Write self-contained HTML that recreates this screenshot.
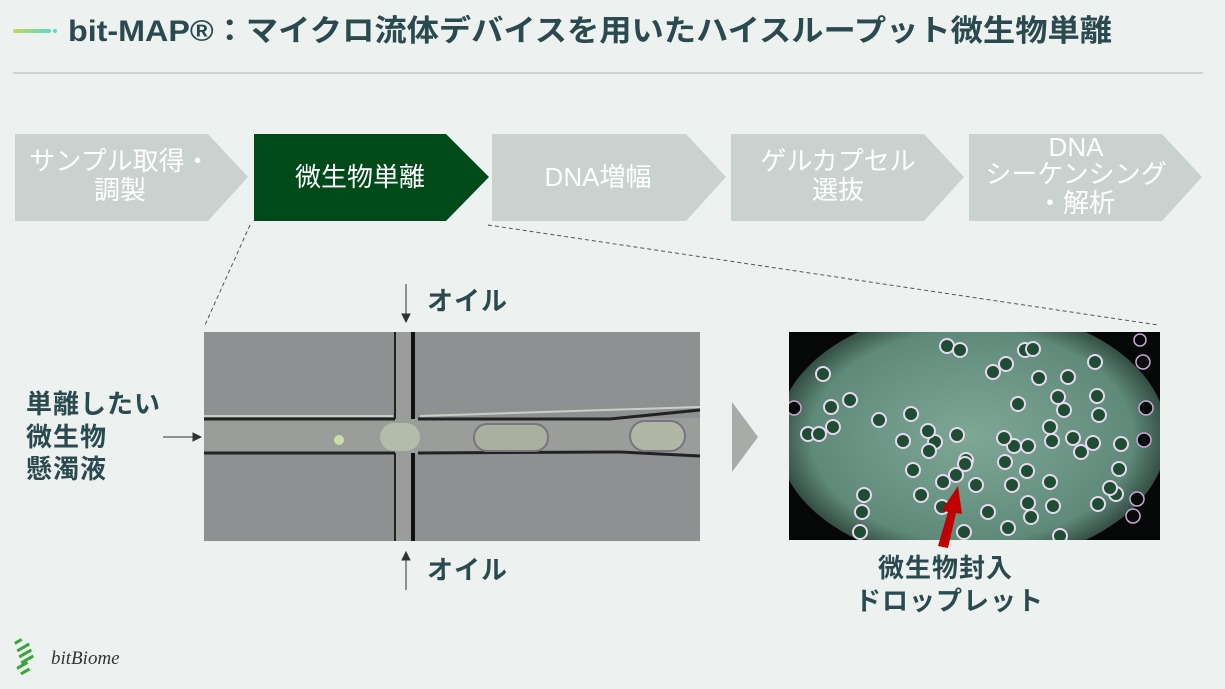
<!DOCTYPE html>
<html><head><meta charset="utf-8"><style>
body{margin:0;width:1225px;height:689px;background:#edf2f0;overflow:hidden;font-family:"Liberation Sans","Noto Sans CJK JP",sans-serif;}
</style></head><body>
<svg width="1225" height="689" viewBox="0 0 1225 689" xmlns="http://www.w3.org/2000/svg" style="position:absolute;left:0;top:0;font-family:'Liberation Sans','Noto Sans CJK JP',sans-serif">
<defs>
<linearGradient id="tg" x1="0" x2="1"><stop offset="0" stop-color="#c2dc50"/><stop offset="1" stop-color="#5ad8c8"/></linearGradient>
<radialGradient id="fl" cx="0.5" cy="0.5" r="0.55"><stop offset="0" stop-color="#7fa796"/><stop offset="0.75" stop-color="#5f8a7a"/><stop offset="1" stop-color="#1b2a24"/></radialGradient>
<clipPath id="fc"><rect x="789" y="332" width="371" height="208"/></clipPath>
</defs>
<rect x="13" y="29" width="38" height="4" rx="2" fill="url(#tg)"/>
<circle cx="55" cy="31" r="2" fill="#5ad8c8"/>
<text x="68" y="41" font-size="30" font-weight="bold" fill="#2a4a50" textLength="1044" lengthAdjust="spacingAndGlyphs">bit-MAP®：マイクロ流体デバイスを用いたハイスループット微生物単離</text>
<line x1="13" y1="73" x2="1203" y2="73" stroke="#a9b8b6" stroke-width="1"/>
<g font-size="26" fill="#fff" text-anchor="middle">
<polygon points="15,134 208,134 248,177 208,221 15,221" fill="#cad2cf"/>
<text x="120" y="170">サンプル取得・</text><text x="120" y="199">調製</text>
<polygon points="254,134 446,134 489,177 446,221 254,221" fill="#004a19"/>
<text x="360" y="186">微生物単離</text>
<polygon points="492,134 686,134 726,177 686,221 492,221" fill="#cad2cf"/>
<text x="598" y="186">DNA増幅</text>
<polygon points="731,134 924,134 964,177 924,221 731,221" fill="#cad2cf"/>
<text x="838" y="170">ゲルカプセル</text><text x="838" y="199">選抜</text>
<polygon points="969,134 1162,134 1202,177 1162,221 969,221" fill="#cad2cf"/>
<text x="1076" y="156">DNA</text><text x="1076" y="183">シーケンシング</text><text x="1076" y="212">・解析</text>
</g>
<line x1="250" y1="225" x2="205" y2="325" stroke="#555" stroke-dasharray="4,3"/>
<line x1="488" y1="225" x2="1158" y2="325" stroke="#555" stroke-dasharray="4,3"/>
<!-- microscope -->
<rect x="204" y="332" width="496" height="209" fill="#8f9092"/>
<rect x="204" y="418" width="496" height="36" fill="#9a9d9a"/>
<line x1="204" y1="419" x2="395" y2="419" stroke="#222" stroke-width="3"/>
<line x1="418" y1="419" x2="610" y2="419" stroke="#222" stroke-width="3"/>
<line x1="610" y1="419" x2="700" y2="410" stroke="#222" stroke-width="3"/>
<line x1="204" y1="453" x2="395" y2="453" stroke="#222" stroke-width="3"/>
<line x1="418" y1="453" x2="620" y2="452" stroke="#222" stroke-width="3"/>
<line x1="620" y1="452" x2="700" y2="456" stroke="#222" stroke-width="3"/>
<line x1="204" y1="416" x2="393" y2="416" stroke="#c9cfc4" stroke-width="2"/>
<line x1="420" y1="416" x2="700" y2="407" stroke="#c9cfc4" stroke-width="2"/>
<line x1="395" y1="332" x2="395" y2="419" stroke="#222" stroke-width="2"/>
<line x1="413" y1="332" x2="413" y2="419" stroke="#111" stroke-width="4"/>
<line x1="395" y1="453" x2="395" y2="541" stroke="#222" stroke-width="2"/>
<line x1="413" y1="453" x2="413" y2="541" stroke="#111" stroke-width="4"/>
<rect x="396" y="332" width="15" height="209" fill="#9a9d9a"/>
<rect x="380" y="423" width="40" height="28" rx="14" fill="#b3bcab"/>
<circle cx="339" cy="440" r="5" fill="#c8e0a8"/>
<rect x="474" y="424" width="74" height="27" rx="13" fill="#a9b09f" stroke="#7a7480" stroke-width="2"/>
<rect x="630" y="421" width="55" height="30" rx="15" fill="#b0b7a6" stroke="#7a7480" stroke-width="2"/>
<!-- arrows/labels -->
<g stroke="#333" stroke-width="1" fill="#333">
<line x1="406" y1="284" x2="406" y2="318"/><polygon points="402,314 410,314 406,322"/>
<line x1="406" y1="590" x2="406" y2="556"/><polygon points="402,560 410,560 406,552"/>
<line x1="163" y1="437" x2="197" y2="437"/><polygon points="193,433 193,441 201,437"/>
</g>
<g font-size="26" font-weight="bold" fill="#2a4a50" letter-spacing="1">
<text x="427" y="310">オイル</text>
<text x="427" y="579">オイル</text>
<text x="26" y="413">単離したい</text>
<text x="26" y="446">微生物</text>
<text x="26" y="478">懸濁液</text>
<text x="878" y="577">微生物封入</text>
<text x="855" y="610">ドロップレット</text>
</g>
<polygon points="732,402 758,437 732,472" fill="#a7aca9"/>
<!-- fluorescence -->
<rect x="789" y="332" width="371" height="208" fill="#050807"/>
<g clip-path="url(#fc)">
<ellipse cx="972" cy="436" rx="195" ry="128" fill="url(#fl)"/>
<g fill="#1f4d33" stroke="#e8d8f0" stroke-width="2">
<circle cx="823" cy="374" r="7"/><circle cx="850" cy="400" r="7"/><circle cx="831" cy="407" r="7"/><circle cx="833" cy="427" r="7"/><circle cx="808" cy="434" r="7"/><circle cx="879" cy="420" r="7"/><circle cx="911" cy="414" r="7"/><circle cx="903" cy="441" r="7"/><circle cx="935" cy="442" r="7"/><circle cx="957" cy="435" r="7"/><circle cx="928" cy="431" r="7"/><circle cx="929" cy="451" r="7"/><circle cx="966" cy="460" r="7"/><circle cx="993" cy="372" r="7"/><circle cx="1006" cy="364" r="7"/><circle cx="1025" cy="350" r="7"/><circle cx="1033" cy="349" r="7"/><circle cx="947" cy="346" r="7"/><circle cx="960" cy="350" r="7"/><circle cx="1039" cy="378" r="7"/><circle cx="1068" cy="377" r="7"/><circle cx="1058" cy="397" r="7"/><circle cx="1064" cy="410" r="7"/><circle cx="1097" cy="396" r="7"/><circle cx="1099" cy="415" r="7"/><circle cx="1093" cy="443" r="7"/><circle cx="1121" cy="444" r="7"/><circle cx="1119" cy="469" r="7"/><circle cx="1052" cy="441" r="7"/><circle cx="1050" cy="427" r="7"/><circle cx="1073" cy="438" r="7"/><circle cx="1028" cy="446" r="7"/><circle cx="1014" cy="446" r="7"/><circle cx="1005" cy="462" r="7"/><circle cx="1027" cy="471" r="7"/><circle cx="1050" cy="482" r="7"/><circle cx="1012" cy="485" r="7"/><circle cx="1004" cy="438" r="7"/><circle cx="913" cy="470" r="7"/><circle cx="921" cy="495" r="7"/><circle cx="943" cy="482" r="7"/><circle cx="956" cy="475" r="7"/><circle cx="965" cy="464" r="7"/><circle cx="976" cy="485" r="7"/><circle cx="1031" cy="517" r="7"/><circle cx="1053" cy="506" r="7"/><circle cx="1060" cy="536" r="7"/><circle cx="1028" cy="503" r="7"/><circle cx="1098" cy="504" r="7"/><circle cx="1116" cy="494" r="7"/><circle cx="864" cy="495" r="7"/><circle cx="862" cy="512" r="7"/><circle cx="860" cy="532" r="7"/><circle cx="988" cy="512" r="7"/><circle cx="1008" cy="528" r="7"/><circle cx="942" cy="507" r="7"/><circle cx="964" cy="532" r="7"/><circle cx="1081" cy="452" r="7"/><circle cx="1095" cy="362" r="7"/><circle cx="819" cy="434" r="7"/><circle cx="1018" cy="404" r="7"/><circle cx="1110" cy="488" r="7"/>
</g>
<g fill="#080a0a" stroke="#c9a8d8" stroke-width="1.5">
<circle cx="1143" cy="362" r="7"/><circle cx="1144" cy="440" r="7"/><circle cx="1146" cy="408" r="7"/><circle cx="1137" cy="499" r="7"/><circle cx="1133" cy="516" r="7"/><circle cx="794" cy="408" r="7"/><circle cx="1140" cy="340" r="6"/>
</g>
</g>
<polygon points="938,546 948,512 942,510 958,486 962,514 956,513 948,548" fill="#c00000"/>
<!-- logo -->
<g fill="#3aa63a">
<rect x="14" y="640" width="8" height="3" transform="rotate(-30 18 641)"/><rect x="16" y="646" width="14" height="3" transform="rotate(-30 23 647)"/><rect x="18" y="652" width="14" height="3" transform="rotate(-30 25 653)"/><rect x="20" y="658" width="14" height="3" transform="rotate(-30 27 659)"/><rect x="16" y="664" width="12" height="3" transform="rotate(-30 22 665)"/><rect x="20" y="670" width="10" height="3" transform="rotate(-30 25 671)"/>
</g>
<text x="51" y="664" font-size="19" font-style="italic" font-family="'Liberation Serif',serif" fill="#333">bitBiome</text>
</svg>
</body></html>
